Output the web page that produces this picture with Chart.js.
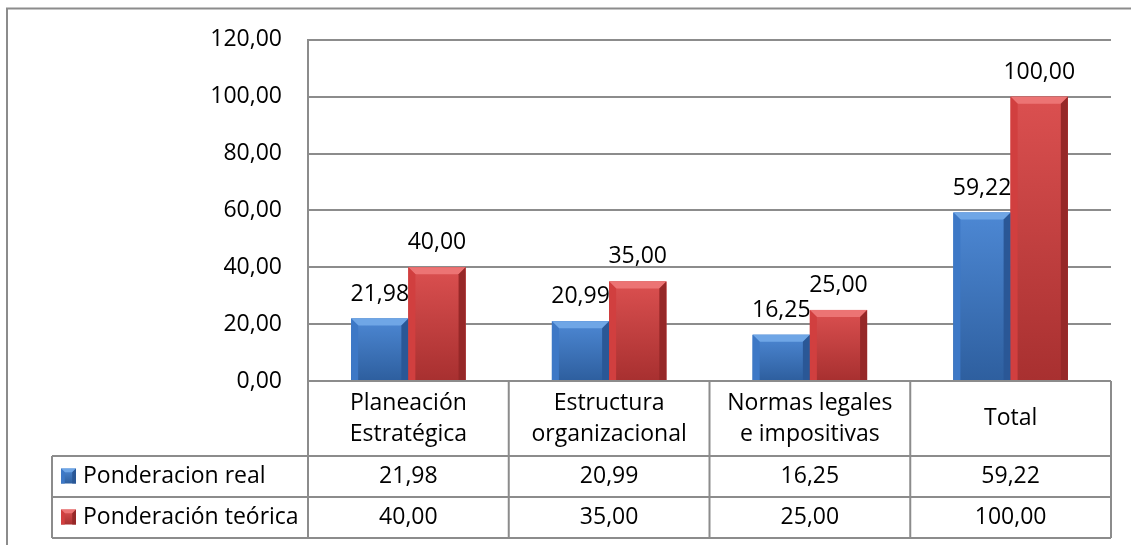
<!DOCTYPE html>
<html>
<head>
<meta charset="utf-8">
<script src="https://cdn.jsdelivr.net/npm/chart.js@4/dist/chart.umd.min.js"></script>
<style>
  html, body { margin: 0; padding: 0; background: #fff; }
  #wrap { width: 1131px; height: 545px; position: relative; }
</style>
</head>
<body>
<div id="wrap"><canvas id="chart"></canvas></div>
<script>
// categories shown in the table header (one entry per line)
const categories = [
    ['Planeación', 'Estratégica'],
    ['Estructura', 'organizacional'],
    ['Normas legales', 'e impositivas'],
    ['Total']
];
const seriesNames = ['Ponderacion real', 'Ponderación teórica'];
const realValues = [21.98, 20.99, 16.25, 59.22];
const theoreticalValues = [40.00, 35.00, 25.00, 100.00];
const yTicks = [0, 20, 40, 60, 80, 100, 120];

const FONT = '"Open Sans", Lato, sans-serif';
const FONT_SIZE = 23;
const LINE = '#8c8c8c';

// face / light / dark tones for the bevelled bars
const palettes = [
    { face: '#3d78c6', light: '#6fa6e6', mid: '#4d88d4', dark: '#2a5796', bottom: '#2e5f9f' },
    { face: '#d13f3f', light: '#ec7474', mid: '#db5050', dark: '#962828', bottom: '#a83030' }
];

const fmt = v => v.toFixed(2).replace('.', ',');

function bevelRect(ctx, l, r, t, b, p) {
    const d = Math.min(7, (r - l) / 4, (b - t) / 2);
    const g = ctx.createLinearGradient(0, t, 0, b);
    g.addColorStop(0, p.mid);
    g.addColorStop(1, p.bottom);
    ctx.fillStyle = g;
    ctx.fillRect(l, t, r - l, b - t);
    // top
    ctx.fillStyle = p.light;
    ctx.beginPath();
    ctx.moveTo(l, t); ctx.lineTo(r, t); ctx.lineTo(r - d, t + d); ctx.lineTo(l + d, t + d);
    ctx.closePath(); ctx.fill();
    // left
    ctx.fillStyle = p.face;
    ctx.beginPath();
    ctx.moveTo(l, t); ctx.lineTo(l + d, t + d); ctx.lineTo(l + d, b); ctx.lineTo(l, b);
    ctx.closePath(); ctx.fill();
    // right
    ctx.fillStyle = p.dark;
    ctx.beginPath();
    ctx.moveTo(r, t); ctx.lineTo(r - d, t + d); ctx.lineTo(r - d, b); ctx.lineTo(r, b);
    ctx.closePath(); ctx.fill();
}

const framePlugin = {
    id: 'frame',
    beforeDraw(chart) {
        const ctx = chart.ctx;
        ctx.save();
        ctx.strokeStyle = LINE;
        ctx.lineWidth = 2;
        ctx.beginPath();
        ctx.moveTo(7, 545); ctx.lineTo(7, 8.5); ctx.lineTo(1131, 8.5);
        ctx.stroke();
        ctx.restore();
    }
};

const barsPlugin = {
    id: 'bevelBars',
    afterDatasetsDraw(chart) {
        const ctx = chart.ctx;
        ctx.save();
        chart.data.datasets.forEach((ds, i) => {
            const meta = chart.getDatasetMeta(i);
            meta.data.forEach((bar, j) => {
                const { x, y, base, width } = bar.getProps(['x', 'y', 'base', 'width'], true);
                bevelRect(ctx, x - width / 2, x + width / 2, y, base, palettes[i]);
                ctx.fillStyle = '#000';
                ctx.font = FONT_SIZE + 'px ' + FONT;
                ctx.textAlign = 'center';
                ctx.textBaseline = 'alphabetic';
                ctx.fillText(fmt(ds.data[j]), x, y - 18);
            });
        });
        ctx.restore();
    }
};

const tablePlugin = {
    id: 'dataTable',
    afterDraw(chart) {
        const ctx = chart.ctx;
        const area = chart.chartArea;
        const colW = (area.right - area.left) / categories.length;
        const top = area.bottom;
        const headH = 75, rowH = 41;
        const rowsTop = top + headH;
        const bottom = rowsTop + rowH * seriesNames.length;
        const legendLeft = 52;

        ctx.save();
        ctx.strokeStyle = LINE;
        ctx.lineWidth = 2;
        ctx.beginPath();
        // header row top & column separators
        ctx.moveTo(area.left, top); ctx.lineTo(area.right, top);
        for (let j = 0; j <= categories.length; j++) {
            const x = area.left + j * colW;
            ctx.moveTo(x, top); ctx.lineTo(x, bottom);
        }
        // series rows
        for (let r = 0; r <= seriesNames.length; r++) {
            const y = rowsTop + r * rowH;
            ctx.moveTo(legendLeft, y); ctx.lineTo(area.right, y);
        }
        ctx.moveTo(legendLeft, rowsTop); ctx.lineTo(legendLeft, bottom);
        ctx.stroke();

        ctx.fillStyle = '#000';
        ctx.font = FONT_SIZE + 'px ' + FONT;
        ctx.textAlign = 'center';
        ctx.textBaseline = 'middle';
        const lineH = 31;
        categories.forEach((lines, j) => {
            const cx = area.left + (j + 0.5) * colW;
            const cy = top + headH / 2;
            lines.forEach((t, k) => {
                ctx.fillText(t, cx, cy + (k - (lines.length - 1) / 2) * lineH);
            });
        });

        const rows = [realValues, theoreticalValues];
        rows.forEach((vals, r) => {
            const cy = rowsTop + (r + 0.5) * rowH;
            vals.forEach((v, j) => {
                ctx.fillText(fmt(v), area.left + (j + 0.5) * colW, cy);
            });
            // legend key and name
            bevelRect(ctx, 61, 76, cy - 8, cy + 7, palettes[r]);
            ctx.textAlign = 'left';
            ctx.fillStyle = '#000';
            ctx.fillText(seriesNames[r], 83, cy);
            ctx.textAlign = 'center';
        });
        ctx.restore();
    }
};

new Chart(document.getElementById('chart'), {
    type: 'bar',
    data: {
        labels: categories.map(c => c.join(' ')),
        datasets: [
            { label: seriesNames[0], data: realValues, backgroundColor: palettes[0].face },
            { label: seriesNames[1], data: theoreticalValues, backgroundColor: palettes[1].face }
        ]
    },
    options: {
        responsive: true,
        maintainAspectRatio: false,
        animation: false,
        layout: { padding: { top: 38, right: 20, bottom: 164, left: 0 } },
        datasets: { bar: { categoryPercentage: 0.57, barPercentage: 1.0, borderWidth: 0 } },
        plugins: { legend: { display: false }, tooltip: { enabled: false } },
        scales: {
            x: { display: false },
            y: {
                min: yTicks[0],
                max: yTicks[yTicks.length - 1],
                afterBuildTicks: s => { s.ticks = yTicks.map(v => ({ value: v })); },
                afterFit: s => { s.width = 308; },
                border: { display: true, color: LINE, width: 2 },
                grid: { color: LINE, lineWidth: 2, drawTicks: false },
                ticks: {
                    padding: 26,
                    color: '#000',
                    font: { family: FONT, size: FONT_SIZE },
                    callback: v => fmt(v)
                }
            }
        }
    },
    plugins: [framePlugin, barsPlugin, tablePlugin]
});
</script>
</body>
</html>
